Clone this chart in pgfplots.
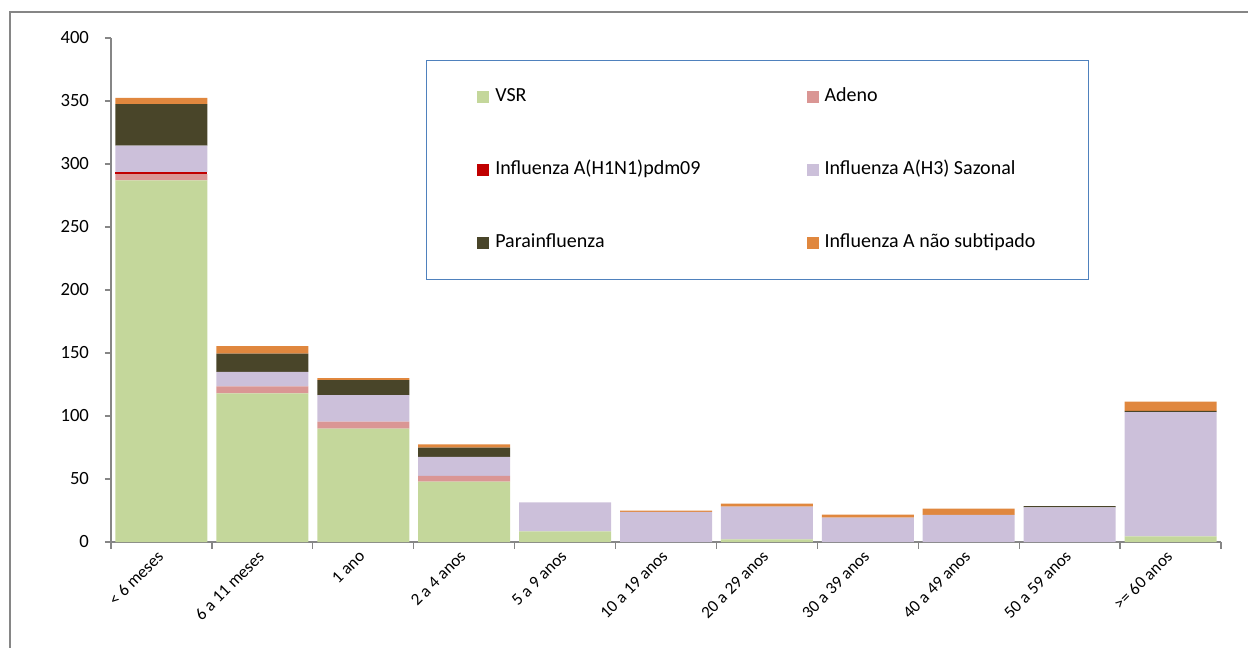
\documentclass[border=0pt]{standalone}
\usepackage{fontspec}
\setmainfont{Carlito}
\usepackage{pgfplots}
\pgfplotsset{compat=1.18}
\usepackage{pgfplotstable}

\definecolor{cVSR}{RGB}{196,215,155}
\definecolor{cAdeno}{RGB}{218,150,148}
\definecolor{cHone}{RGB}{192,0,0}
\definecolor{cHthree}{RGB}{204,192,218}
\definecolor{cPara}{RGB}{73,69,41}
\definecolor{cFluA}{RGB}{224,135,62}
\definecolor{axisgray}{RGB}{134,134,134}
\definecolor{legblue}{RGB}{79,129,189}

\pgfplotstableread{
x VSR Adeno H1N1 H3 Para FluA
0 287 5 1.5 21 33 5
1 118 5.5 0 11.5 14.5 6
2 90 5.5 0 21 12 1.5
3 48 4.5 0 15 7.5 2.5
4 8.5 0 0 23 0 0
5 0 0 0 24 0 1
6 2 0 0 26 0 2.5
7 0 0 0 19.4 0 2.4
8 0 0 0 21.5 0 5
9 0 0 0 27.5 1 0
10 4.5 0 0 98.5 1 7.5
}\datatable

\begin{document}
\begin{tikzpicture}
\begin{axis}[
  at={(0pt,0pt)}, anchor=south west,
  scale only axis, width=832.5pt, height=378pt,
  xmin=-0.5, xmax=10.5, ymin=0, ymax=400,
  ybar stacked, bar width=69pt,
  xtick={0,...,10},
  xticklabels={{< 6 meses},{6 a 11 meses},{1 ano},{2 a 4 anos},{5 a 9 anos},{10 a 19 anos},{20 a 29 anos},{30 a 39 anos},{40 a 49 anos},{50 a 59 anos},{>= 60 anos}},
  minor xtick={-0.5,0.5,...,10.5},
  ytick={0,50,...,400},
  axis x line*=bottom, axis y line*=left,
  axis line style={draw=axisgray, line width=1pt, -},
  tick style={draw=axisgray, line width=1pt},
  major x tick style={draw=none},
  tick align=outside, major tick length=4.5pt, minor tick length=5pt,
  /pgf/number format/assume math mode=true,
  yticklabel style={font=\fontsize{14}{16}\selectfont, xshift=-8.5pt},
  xticklabel style={font=\fontsize{12.8}{15}\selectfont, xshift=-4pt, yshift=-1pt, rotate=45, anchor=north east, inner sep=0pt},
  legend columns=2,
  legend cell align=left,
  legend image code/.code={\draw[#1,draw=none] (0pt,-4.5pt) rectangle (9pt,4.5pt);},
  legend style={at={(0.2838,0.9563)}, anchor=north west, draw=legblue, line width=0.9pt,
    font=\fontsize{15}{18}\selectfont, inner xsep=38pt, inner ysep=18.5pt,
    nodes={inner sep=1.5pt, text height=11pt, text depth=4pt},
    row sep=36.5pt,
    /tikz/every odd column/.append style={column sep=3pt},
    /tikz/every even column/.append style={column sep=78pt}},
]
\addplot[fill=cVSR, draw=none] table[x=x, y=VSR] {\datatable};
\addlegendentry{VSR}
\addplot[fill=cAdeno, draw=none] table[x=x, y=Adeno] {\datatable};
\addlegendentry{Adeno}
\addplot[fill=cHone, draw=none] table[x=x, y=H1N1] {\datatable};
\addlegendentry{Influenza A(H1N1)pdm09}
\addplot[fill=cHthree, draw=none] table[x=x, y=H3] {\datatable};
\addlegendentry{Influenza A(H3) Sazonal}
\addplot[fill=cPara, draw=none] table[x=x, y=Para] {\datatable};
\addlegendentry{Parainfluenza}
\addplot[fill=cFluA, draw=none] table[x=x, y=FluA] {\datatable};
\addlegendentry{Influenza A não subtipado}
\end{axis}
\draw[color=axisgray, line width=0.8pt] (-75.75pt,-80pt) -- (-75.75pt,397.5pt) -- (860pt,397.5pt);
\pgfresetboundingbox
\useasboundingbox (-83.25pt,-78.75pt) rectangle (852.75pt,406.5pt);
\end{tikzpicture}
\end{document}
